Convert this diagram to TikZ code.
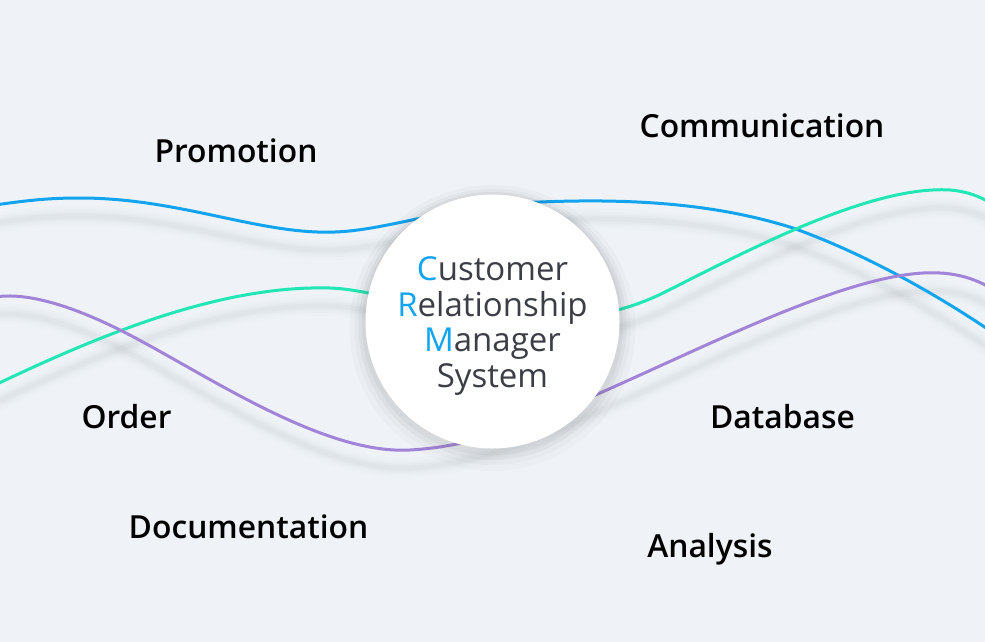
\documentclass[tikz,border=0pt]{standalone}
\usepackage{fontspec}
\setmainfont{Open Sans}
\IfFontExistsTF{Open Sans SemiBold}{\newfontfamily\semib{Open Sans SemiBold}}{%
  \IfFontExistsTF{Open Sans Semibold}{\newfontfamily\semib{Open Sans Semibold}}{%
    \newfontfamily\semib{Open Sans}[UprightFont=*-Bold]}}
\definecolor{bg}{HTML}{EFF3F7}
\definecolor{cblue}{HTML}{12A4EE}
\definecolor{cgreen}{HTML}{22E6B4}
\definecolor{cpurple}{HTML}{A184D8}
\definecolor{ctext}{HTML}{3B3E45}
\definecolor{shade}{HTML}{8C929C}
\newcommand\cshadow[1]{%
  \draw[shd,line width=20pt,opacity=0.02] #1;
  \draw[shd,line width=14pt,opacity=0.03] #1;
  \draw[shd,line width=9pt,opacity=0.04] #1;
  \draw[shd,line width=5pt,opacity=0.05] #1;}
\begin{document}
\begin{tikzpicture}[x=1pt,y=-1pt,
  lbl/.style={anchor=base,text=black,font=\semib\fontsize{31.8}{36}\selectfont,inner sep=0pt},
  curve/.style={line width=3pt,line cap=round},
  shd/.style={draw=shade,line cap=round}]
\fill[bg] (0,0) rectangle (985,642);
\useasboundingbox (0,0) rectangle (985,642);
\def\bluepath{(-5,205) .. controls (30,200) and (50,198) .. (80,198)
  .. controls (180,198) and (260,235) .. (335,232)
  .. controls (390,230) and (450,205) .. (540,202)
  .. controls (640,198) and (720,205) .. (793,228)
  .. controls (860,252) and (930,290) .. (992,332)}
\def\greenpath{(-5,385) .. controls (100,335) and (220,285) .. (330,288)
  .. controls (400,290) and (540,355) .. (665,292)
  .. controls (745,252) and (870,185) .. (950,190)
  .. controls (965,191) and (980,196) .. (992,204)}
\def\purplepath{(-5,297) .. controls (20,293) and (60,300) .. (120,330)
  .. controls (200,370) and (320,455) .. (410,450)
  .. controls (480,446) and (540,420) .. (600,393)
  .. controls (720,340) and (860,268) .. (940,273)
  .. controls (960,274) and (978,280) .. (992,289)}
% curve shadows
\begin{scope}[shift={(0,18)}]
\cshadow{\bluepath}
\cshadow{\greenpath}
\cshadow{\purplepath}
\end{scope}
% curves
\draw[curve,cblue] \bluepath;
\draw[curve,cgreen] \greenpath;
\draw[curve,cpurple] \purplepath;
% circle shadow
\fill[shade,opacity=0.015] (492.5,328) circle[radius=143];
\fill[shade,opacity=0.02] (492.5,327) circle[radius=138];
\fill[shade,opacity=0.03] (492.5,326) circle[radius=134];
\fill[shade,opacity=0.035] (492.5,325) circle[radius=130.5];
\node[circle,fill=white,minimum size=254pt,inner sep=0pt] (crm) at (492.5,321.5) {};
\node[align=center,text=ctext,font=\fontsize{33}{35.5}\selectfont,inner sep=0pt] (crmtext) at (492.5,326)
  {\textcolor{cblue}{C}ustomer\\\textcolor{cblue}{R}elationship\\\textcolor{cblue}{M}anager\\System};
\node[lbl] (promo) at (236,162) {Promotion};
\node[lbl] (comm) at (762,137) {Communication};
\node[lbl] (order) at (126.5,428) {Order};
\node[lbl] (db) at (782.5,428) {Database};
\node[lbl] (doc) at (248.5,538) {Documentation};
\node[lbl] (ana) at (710,557) {Analysis};
\end{tikzpicture}
\end{document}
